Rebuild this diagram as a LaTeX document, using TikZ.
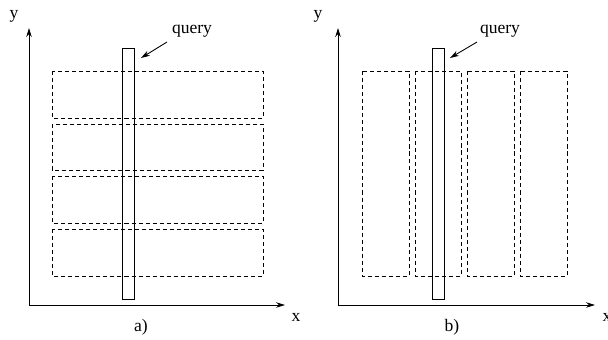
\documentclass[tikz,border=0pt]{standalone}
\usepackage{fontspec}
\setmainfont{Liberation Serif}
\usetikzlibrary{arrows.meta,positioning}

\begin{document}
\begin{tikzpicture}[
      x=0.02cm, y=-0.02cm,
      line width=0.5pt,
      lbl/.style={inner sep=0pt, font=\normalsize},
      part/.style={draw, dash pattern=on 2.3pt off 1.7pt},
      qbox/.style={draw},
      arr/.style={-{Stealth[length=1.8mm, width=1.1mm]}},
    ]
    \useasboundingbox (0,0) rectangle (608,339);
    % a) horizontal partitions
    \coordinate (oa) at (29,305);
    \coordinate (ya) at (29,28);
    \coordinate (xa) at (285,305);
    \draw[arr] (oa) -- (ya);
    \draw[arr] (oa) -- (xa);
    \node[lbl] (ylA) at (14,16) {y};
    \node[lbl] (xlA) at (296,317) {x};
    \node[lbl] (capA) at (141,327) {a)};
    \foreach \t/\b in {71/118, 124/170, 176/223, 229/276}
      \draw[part] (52,\t) rectangle (263,\b);
    \draw[qbox] (122,48) rectangle (134,299);
    \node[lbl] (qlA) at (192,31) {query};
    \coordinate (qtipA) at (141,58);
    \draw[arr] (167,42) -- (qtipA);
    % b) vertical partitions
    \coordinate (ob) at (338,305);
    \coordinate (yb) at (338,28);
    \coordinate (xb) at (595,305);
    \draw[arr] (ob) -- (yb);
    \draw[arr] (ob) -- (xb);
    \node[lbl] (ylB) at (318,16) {y};
    \node[lbl] (xlB) at (607,317) {x};
    \node[lbl] (capB) at (452,327) {b)};
    \foreach \l/\r in {362/409, 415/461, 467/514, 520/567}
      \draw[part] (\l,71) rectangle (\r,276);
    \draw[qbox] (432,48) rectangle (444,299);
    \node[lbl] (qlB) at (500,31) {query};
    \coordinate (qtipB) at (450,58);
    \draw[arr] (477,42) -- (qtipB);
  \end{tikzpicture}
\end{document}
